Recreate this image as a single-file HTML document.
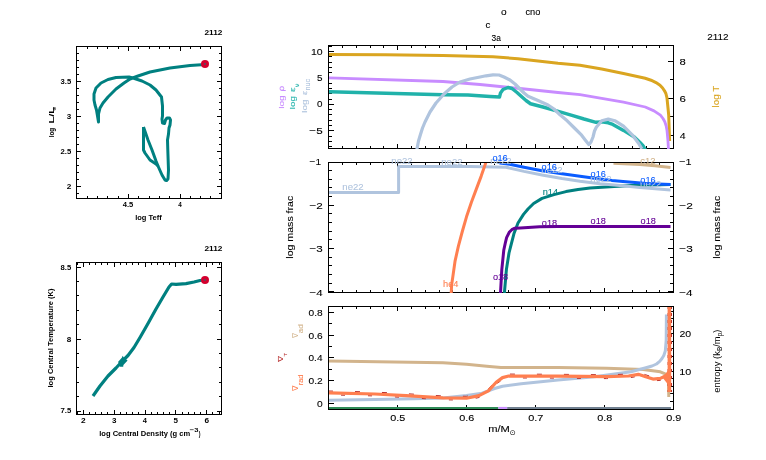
<!DOCTYPE html>
<html><head><meta charset="utf-8"><title>pgstar</title>
<style>
html,body{margin:0;padding:0;background:#fff;width:766px;height:460px;overflow:hidden}
svg{display:block}
</style></head><body>
<svg width="766" height="460" viewBox="0 0 766 460">
<rect width="766" height="460" fill="#fff"/>
<g style="font-family:'Liberation Sans',sans-serif">
<g shape-rendering="auto">
<path d="M143.50,127.00 L143.50,150.00 L145.00,153.00 L150.00,160.00 L156.00,164.00 L158.00,166.00 L162.00,175.00 L165.00,180.00 L166.50,180.60 L168.00,179.00 L168.50,170.00 L167.80,150.00 L167.50,140.00 L168.50,134.00 L169.00,128.00 L170.00,125.00 L170.50,120.00 L169.50,118.00 L167.00,118.00 L165.50,120.00 L164.50,123.50 L162.50,123.00 L162.00,119.00 L162.50,116.00 L162.50,106.00 L161.50,97.00 L156.00,90.00 L150.00,85.00 L142.00,81.00 L133.00,78.00 L129.00,77.00 L116.00,77.50 L108.00,79.50 L101.00,83.00 L96.00,88.00 L94.00,94.00 L94.00,100.00 L95.00,105.00 L96.50,110.00 L97.50,116.00 L98.50,122.00 L98.50,114.00 L100.00,108.00 L103.00,103.00 L108.00,97.00 L116.00,89.00 L124.00,83.00 L130.00,79.00 L138.00,76.00 L150.00,72.00 L170.00,68.00 L190.00,65.40 L205.00,64.40" fill="none" stroke="#008080" stroke-width="3.00" stroke-linejoin="round" stroke-linecap="butt" />
<path d="M143.50,127.00 L148.00,140.00 L152.00,150.00 L156.00,161.00 L158.00,166.00" fill="none" stroke="#008080" stroke-width="3.00" stroke-linejoin="round" stroke-linecap="butt" />
<circle cx="205" cy="64.1" r="4" fill="#d4002e"/>
<rect x="204" y="63.5" width="2" height="1" fill="#008080"/>
</g>
<rect x="76" y="46" width="146" height="1" fill="#000"/>
<rect x="76" y="198" width="146" height="1" fill="#000"/>
<rect x="76" y="46" width="1" height="153" fill="#000"/>
<rect x="221" y="46" width="1" height="153" fill="#000"/>
<rect x="77" y="186" width="4" height="1" fill="#000"/>
<rect x="217" y="186" width="4" height="1" fill="#000"/>
<rect x="77" y="151" width="4" height="1" fill="#000"/>
<rect x="217" y="151" width="4" height="1" fill="#000"/>
<rect x="77" y="116" width="4" height="1" fill="#000"/>
<rect x="217" y="116" width="4" height="1" fill="#000"/>
<rect x="77" y="81" width="4" height="1" fill="#000"/>
<rect x="217" y="81" width="4" height="1" fill="#000"/>
<rect x="77" y="46" width="4" height="1" fill="#000"/>
<rect x="217" y="46" width="4" height="1" fill="#000"/>
<rect x="77" y="193" width="2" height="1" fill="#000"/>
<rect x="219" y="193" width="2" height="1" fill="#000"/>
<rect x="77" y="179" width="2" height="1" fill="#000"/>
<rect x="219" y="179" width="2" height="1" fill="#000"/>
<rect x="77" y="172" width="2" height="1" fill="#000"/>
<rect x="219" y="172" width="2" height="1" fill="#000"/>
<rect x="77" y="165" width="2" height="1" fill="#000"/>
<rect x="219" y="165" width="2" height="1" fill="#000"/>
<rect x="77" y="158" width="2" height="1" fill="#000"/>
<rect x="219" y="158" width="2" height="1" fill="#000"/>
<rect x="77" y="144" width="2" height="1" fill="#000"/>
<rect x="219" y="144" width="2" height="1" fill="#000"/>
<rect x="77" y="137" width="2" height="1" fill="#000"/>
<rect x="219" y="137" width="2" height="1" fill="#000"/>
<rect x="77" y="130" width="2" height="1" fill="#000"/>
<rect x="219" y="130" width="2" height="1" fill="#000"/>
<rect x="77" y="123" width="2" height="1" fill="#000"/>
<rect x="219" y="123" width="2" height="1" fill="#000"/>
<rect x="77" y="109" width="2" height="1" fill="#000"/>
<rect x="219" y="109" width="2" height="1" fill="#000"/>
<rect x="77" y="102" width="2" height="1" fill="#000"/>
<rect x="219" y="102" width="2" height="1" fill="#000"/>
<rect x="77" y="95" width="2" height="1" fill="#000"/>
<rect x="219" y="95" width="2" height="1" fill="#000"/>
<rect x="77" y="88" width="2" height="1" fill="#000"/>
<rect x="219" y="88" width="2" height="1" fill="#000"/>
<rect x="77" y="74" width="2" height="1" fill="#000"/>
<rect x="219" y="74" width="2" height="1" fill="#000"/>
<rect x="77" y="67" width="2" height="1" fill="#000"/>
<rect x="219" y="67" width="2" height="1" fill="#000"/>
<rect x="77" y="60" width="2" height="1" fill="#000"/>
<rect x="219" y="60" width="2" height="1" fill="#000"/>
<rect x="77" y="53" width="2" height="1" fill="#000"/>
<rect x="219" y="53" width="2" height="1" fill="#000"/>
<rect x="180" y="47" width="1" height="4" fill="#000"/>
<rect x="180" y="194" width="1" height="4" fill="#000"/>
<rect x="128" y="47" width="1" height="4" fill="#000"/>
<rect x="128" y="194" width="1" height="4" fill="#000"/>
<rect x="210" y="47" width="1" height="2" fill="#000"/>
<rect x="210" y="196" width="1" height="2" fill="#000"/>
<rect x="200" y="47" width="1" height="2" fill="#000"/>
<rect x="200" y="196" width="1" height="2" fill="#000"/>
<rect x="190" y="47" width="1" height="2" fill="#000"/>
<rect x="190" y="196" width="1" height="2" fill="#000"/>
<rect x="169" y="47" width="1" height="2" fill="#000"/>
<rect x="169" y="196" width="1" height="2" fill="#000"/>
<rect x="159" y="47" width="1" height="2" fill="#000"/>
<rect x="159" y="196" width="1" height="2" fill="#000"/>
<rect x="149" y="47" width="1" height="2" fill="#000"/>
<rect x="149" y="196" width="1" height="2" fill="#000"/>
<rect x="138" y="47" width="1" height="2" fill="#000"/>
<rect x="138" y="196" width="1" height="2" fill="#000"/>
<rect x="118" y="47" width="1" height="2" fill="#000"/>
<rect x="118" y="196" width="1" height="2" fill="#000"/>
<rect x="107" y="47" width="1" height="2" fill="#000"/>
<rect x="107" y="196" width="1" height="2" fill="#000"/>
<rect x="97" y="47" width="1" height="2" fill="#000"/>
<rect x="97" y="196" width="1" height="2" fill="#000"/>
<rect x="87" y="47" width="1" height="2" fill="#000"/>
<rect x="87" y="196" width="1" height="2" fill="#000"/>
<text x="60.63" y="84.00" font-size="7.30" fill="#000" font-weight="bold" textLength="10.59" lengthAdjust="spacingAndGlyphs" >3.5</text>
<text x="66.82" y="118.90" font-size="7.30" fill="#000" font-weight="bold" textLength="4.48" lengthAdjust="spacingAndGlyphs" >3</text>
<text x="60.53" y="154.00" font-size="7.30" fill="#000" font-weight="bold" textLength="10.68" lengthAdjust="spacingAndGlyphs" >2.5</text>
<text x="66.71" y="189.00" font-size="7.30" fill="#000" font-weight="bold" textLength="4.62" lengthAdjust="spacingAndGlyphs" >2</text>
<text x="122.69" y="207.10" font-size="7.30" fill="#000" font-weight="bold" textLength="10.53" lengthAdjust="spacingAndGlyphs" >4.5</text>
<text x="178.30" y="207.10" font-size="7.30" fill="#000" font-weight="bold" textLength="3.53" lengthAdjust="spacingAndGlyphs" >4</text>
<text x="135.19" y="219.90" font-size="7.30" fill="#000" font-weight="bold" textLength="26.50" lengthAdjust="spacingAndGlyphs" >log Teff</text>
<text transform="translate(53.60 136.80) rotate(-90)" x="-0.44" y="0" font-size="7.30" fill="#000" font-weight="bold" textLength="9.46" lengthAdjust="spacingAndGlyphs" >log</text>
<text transform="translate(53.60 122.80) rotate(-90)" x="-0.74" y="0" font-size="7.30" fill="#000" font-weight="bold" textLength="16.69" lengthAdjust="spacingAndGlyphs" >L/L</text>
<text transform="translate(56.1 110.7) rotate(-90)" x="0" y="0" font-size="4.8" font-family="DejaVu Sans, sans-serif" font-weight="bold">&#8857;</text>
<text x="204.42" y="35.10" font-size="7.60" fill="#000" font-weight="bold" textLength="18.00" lengthAdjust="spacingAndGlyphs" >2112</text>
<path d="M93.00,396.00 L100.00,386.00 L108.00,376.00 L116.00,368.00 L122.00,361.50 L128.00,355.50 L134.00,347.50 L140.00,337.50 L148.00,323.50 L156.00,309.00 L163.00,297.00 L169.00,287.00 L171.60,284.00 L176.00,284.40 L186.00,283.60 L194.00,282.00 L200.00,280.50 L205.00,280.00" fill="none" stroke="#008080" stroke-width="3.20" stroke-linejoin="round" stroke-linecap="butt" />
<polygon points="118,362 122,357.5 122.6,355.8 124.2,358 127.6,360.4 123.4,365 123.2,366.8 119.8,366.8 119.4,364" fill="#008080"/>
<circle cx="205" cy="279.9" r="4" fill="#d4002e"/>
<rect x="204" y="279.5" width="2" height="1" fill="#008080"/>
<rect x="76" y="262" width="146" height="1" fill="#000"/>
<rect x="76" y="414" width="146" height="1" fill="#000"/>
<rect x="76" y="262" width="1" height="153" fill="#000"/>
<rect x="221" y="262" width="1" height="153" fill="#000"/>
<rect x="77" y="411" width="4" height="1" fill="#000"/>
<rect x="217" y="411" width="4" height="1" fill="#000"/>
<rect x="77" y="339" width="4" height="1" fill="#000"/>
<rect x="217" y="339" width="4" height="1" fill="#000"/>
<rect x="77" y="267" width="4" height="1" fill="#000"/>
<rect x="217" y="267" width="4" height="1" fill="#000"/>
<rect x="77" y="396" width="2" height="1" fill="#000"/>
<rect x="219" y="396" width="2" height="1" fill="#000"/>
<rect x="77" y="382" width="2" height="1" fill="#000"/>
<rect x="219" y="382" width="2" height="1" fill="#000"/>
<rect x="77" y="367" width="2" height="1" fill="#000"/>
<rect x="219" y="367" width="2" height="1" fill="#000"/>
<rect x="77" y="353" width="2" height="1" fill="#000"/>
<rect x="219" y="353" width="2" height="1" fill="#000"/>
<rect x="77" y="324" width="2" height="1" fill="#000"/>
<rect x="219" y="324" width="2" height="1" fill="#000"/>
<rect x="77" y="310" width="2" height="1" fill="#000"/>
<rect x="219" y="310" width="2" height="1" fill="#000"/>
<rect x="77" y="295" width="2" height="1" fill="#000"/>
<rect x="219" y="295" width="2" height="1" fill="#000"/>
<rect x="77" y="281" width="2" height="1" fill="#000"/>
<rect x="219" y="281" width="2" height="1" fill="#000"/>
<rect x="83" y="263" width="1" height="4" fill="#000"/>
<rect x="83" y="410" width="1" height="4" fill="#000"/>
<rect x="114" y="263" width="1" height="4" fill="#000"/>
<rect x="114" y="410" width="1" height="4" fill="#000"/>
<rect x="145" y="263" width="1" height="4" fill="#000"/>
<rect x="145" y="410" width="1" height="4" fill="#000"/>
<rect x="175" y="263" width="1" height="4" fill="#000"/>
<rect x="175" y="410" width="1" height="4" fill="#000"/>
<rect x="206" y="263" width="1" height="4" fill="#000"/>
<rect x="206" y="410" width="1" height="4" fill="#000"/>
<rect x="77" y="263" width="1" height="2" fill="#000"/>
<rect x="77" y="412" width="1" height="2" fill="#000"/>
<rect x="89" y="263" width="1" height="2" fill="#000"/>
<rect x="89" y="412" width="1" height="2" fill="#000"/>
<rect x="95" y="263" width="1" height="2" fill="#000"/>
<rect x="95" y="412" width="1" height="2" fill="#000"/>
<rect x="101" y="263" width="1" height="2" fill="#000"/>
<rect x="101" y="412" width="1" height="2" fill="#000"/>
<rect x="107" y="263" width="1" height="2" fill="#000"/>
<rect x="107" y="412" width="1" height="2" fill="#000"/>
<rect x="120" y="263" width="1" height="2" fill="#000"/>
<rect x="120" y="412" width="1" height="2" fill="#000"/>
<rect x="126" y="263" width="1" height="2" fill="#000"/>
<rect x="126" y="412" width="1" height="2" fill="#000"/>
<rect x="132" y="263" width="1" height="2" fill="#000"/>
<rect x="132" y="412" width="1" height="2" fill="#000"/>
<rect x="138" y="263" width="1" height="2" fill="#000"/>
<rect x="138" y="412" width="1" height="2" fill="#000"/>
<rect x="151" y="263" width="1" height="2" fill="#000"/>
<rect x="151" y="412" width="1" height="2" fill="#000"/>
<rect x="157" y="263" width="1" height="2" fill="#000"/>
<rect x="157" y="412" width="1" height="2" fill="#000"/>
<rect x="163" y="263" width="1" height="2" fill="#000"/>
<rect x="163" y="412" width="1" height="2" fill="#000"/>
<rect x="169" y="263" width="1" height="2" fill="#000"/>
<rect x="169" y="412" width="1" height="2" fill="#000"/>
<rect x="182" y="263" width="1" height="2" fill="#000"/>
<rect x="182" y="412" width="1" height="2" fill="#000"/>
<rect x="188" y="263" width="1" height="2" fill="#000"/>
<rect x="188" y="412" width="1" height="2" fill="#000"/>
<rect x="194" y="263" width="1" height="2" fill="#000"/>
<rect x="194" y="412" width="1" height="2" fill="#000"/>
<rect x="200" y="263" width="1" height="2" fill="#000"/>
<rect x="200" y="412" width="1" height="2" fill="#000"/>
<rect x="212" y="263" width="1" height="2" fill="#000"/>
<rect x="212" y="412" width="1" height="2" fill="#000"/>
<rect x="219" y="263" width="1" height="2" fill="#000"/>
<rect x="219" y="412" width="1" height="2" fill="#000"/>
<text x="60.56" y="270.00" font-size="7.30" fill="#000" font-weight="bold" textLength="10.66" lengthAdjust="spacingAndGlyphs" >8.5</text>
<text x="66.74" y="341.80" font-size="7.30" fill="#000" font-weight="bold" textLength="4.51" lengthAdjust="spacingAndGlyphs" >8</text>
<text x="60.47" y="413.20" font-size="7.30" fill="#000" font-weight="bold" textLength="10.75" lengthAdjust="spacingAndGlyphs" >7.5</text>
<text x="81.01" y="422.80" font-size="7.00" fill="#000" font-weight="bold" textLength="4.62" lengthAdjust="spacingAndGlyphs" >2</text>
<text x="111.97" y="422.80" font-size="7.00" fill="#000" font-weight="bold" textLength="4.48" lengthAdjust="spacingAndGlyphs" >3</text>
<text x="142.89" y="422.80" font-size="7.00" fill="#000" font-weight="bold" textLength="4.15" lengthAdjust="spacingAndGlyphs" >4</text>
<text x="173.60" y="422.80" font-size="7.00" fill="#000" font-weight="bold" textLength="4.47" lengthAdjust="spacingAndGlyphs" >5</text>
<text x="204.40" y="422.80" font-size="7.00" fill="#000" font-weight="bold" textLength="4.60" lengthAdjust="spacingAndGlyphs" >6</text>
<text x="99.27" y="435.60" font-size="7.30" fill="#000" font-weight="bold" textLength="90.89" lengthAdjust="spacingAndGlyphs" >log Central Density (g cm</text>
<text x="189.8" y="432.4" font-size="6" font-weight="bold" textLength="8.6" lengthAdjust="spacingAndGlyphs">&#8722;3</text>
<text x="198.69" y="435.60" font-size="7.30" fill="#000" font-weight="bold" textLength="1.77" lengthAdjust="spacingAndGlyphs" >)</text>
<text transform="translate(53.00 387.00) rotate(-90)" x="-0.52" y="0" font-size="7.30" fill="#000" font-weight="bold" textLength="99.10" lengthAdjust="spacingAndGlyphs" >log Central Temperature (K)</text>
<text x="204.42" y="251.00" font-size="7.60" fill="#000" font-weight="bold" textLength="18.00" lengthAdjust="spacingAndGlyphs" >2112</text>
</g>
<defs>
<clipPath id="c1"><rect x="329" y="46" width="344" height="103"/></clipPath>
<clipPath id="c2"><rect x="329" y="163" width="344" height="130"/></clipPath>
<clipPath id="c3"><rect x="329" y="307" width="344" height="103"/></clipPath>
</defs>
<g style="font-family:'Liberation Sans',sans-serif">
<rect x="328" y="45" width="346" height="1" fill="#000"/>
<rect x="328" y="148" width="346" height="1" fill="#000"/>
<rect x="328" y="45" width="1" height="104" fill="#000"/>
<rect x="673" y="45" width="1" height="104" fill="#000"/>
<rect x="329" y="51" width="5" height="1" fill="#000"/>
<rect x="329" y="78" width="5" height="1" fill="#000"/>
<rect x="329" y="104" width="5" height="1" fill="#000"/>
<rect x="329" y="130" width="5" height="1" fill="#000"/>
<rect x="329" y="146" width="3" height="1" fill="#000"/>
<rect x="329" y="141" width="3" height="1" fill="#000"/>
<rect x="329" y="136" width="3" height="1" fill="#000"/>
<rect x="329" y="125" width="3" height="1" fill="#000"/>
<rect x="329" y="120" width="3" height="1" fill="#000"/>
<rect x="329" y="114" width="3" height="1" fill="#000"/>
<rect x="329" y="109" width="3" height="1" fill="#000"/>
<rect x="329" y="99" width="3" height="1" fill="#000"/>
<rect x="329" y="93" width="3" height="1" fill="#000"/>
<rect x="329" y="88" width="3" height="1" fill="#000"/>
<rect x="329" y="83" width="3" height="1" fill="#000"/>
<rect x="329" y="72" width="3" height="1" fill="#000"/>
<rect x="329" y="67" width="3" height="1" fill="#000"/>
<rect x="329" y="62" width="3" height="1" fill="#000"/>
<rect x="329" y="56" width="3" height="1" fill="#000"/>
<rect x="329" y="46" width="3" height="1" fill="#000"/>
<rect x="668" y="61" width="5" height="1" fill="#000"/>
<rect x="668" y="98" width="5" height="1" fill="#000"/>
<rect x="668" y="135" width="5" height="1" fill="#000"/>
<rect x="670" y="79" width="3" height="1" fill="#000"/>
<rect x="670" y="116" width="3" height="1" fill="#000"/>
<rect x="397" y="46" width="1" height="4" fill="#000"/>
<rect x="397" y="144" width="1" height="4" fill="#000"/>
<rect x="466" y="46" width="1" height="4" fill="#000"/>
<rect x="466" y="144" width="1" height="4" fill="#000"/>
<rect x="535" y="46" width="1" height="4" fill="#000"/>
<rect x="535" y="144" width="1" height="4" fill="#000"/>
<rect x="604" y="46" width="1" height="4" fill="#000"/>
<rect x="604" y="144" width="1" height="4" fill="#000"/>
<rect x="342" y="46" width="1" height="2" fill="#000"/>
<rect x="342" y="146" width="1" height="2" fill="#000"/>
<rect x="356" y="46" width="1" height="2" fill="#000"/>
<rect x="356" y="146" width="1" height="2" fill="#000"/>
<rect x="370" y="46" width="1" height="2" fill="#000"/>
<rect x="370" y="146" width="1" height="2" fill="#000"/>
<rect x="383" y="46" width="1" height="2" fill="#000"/>
<rect x="383" y="146" width="1" height="2" fill="#000"/>
<rect x="411" y="46" width="1" height="2" fill="#000"/>
<rect x="411" y="146" width="1" height="2" fill="#000"/>
<rect x="425" y="46" width="1" height="2" fill="#000"/>
<rect x="425" y="146" width="1" height="2" fill="#000"/>
<rect x="439" y="46" width="1" height="2" fill="#000"/>
<rect x="439" y="146" width="1" height="2" fill="#000"/>
<rect x="452" y="46" width="1" height="2" fill="#000"/>
<rect x="452" y="146" width="1" height="2" fill="#000"/>
<rect x="480" y="46" width="1" height="2" fill="#000"/>
<rect x="480" y="146" width="1" height="2" fill="#000"/>
<rect x="494" y="46" width="1" height="2" fill="#000"/>
<rect x="494" y="146" width="1" height="2" fill="#000"/>
<rect x="508" y="46" width="1" height="2" fill="#000"/>
<rect x="508" y="146" width="1" height="2" fill="#000"/>
<rect x="521" y="46" width="1" height="2" fill="#000"/>
<rect x="521" y="146" width="1" height="2" fill="#000"/>
<rect x="549" y="46" width="1" height="2" fill="#000"/>
<rect x="549" y="146" width="1" height="2" fill="#000"/>
<rect x="563" y="46" width="1" height="2" fill="#000"/>
<rect x="563" y="146" width="1" height="2" fill="#000"/>
<rect x="577" y="46" width="1" height="2" fill="#000"/>
<rect x="577" y="146" width="1" height="2" fill="#000"/>
<rect x="590" y="46" width="1" height="2" fill="#000"/>
<rect x="590" y="146" width="1" height="2" fill="#000"/>
<rect x="618" y="46" width="1" height="2" fill="#000"/>
<rect x="618" y="146" width="1" height="2" fill="#000"/>
<rect x="632" y="46" width="1" height="2" fill="#000"/>
<rect x="632" y="146" width="1" height="2" fill="#000"/>
<rect x="646" y="46" width="1" height="2" fill="#000"/>
<rect x="646" y="146" width="1" height="2" fill="#000"/>
<rect x="659" y="46" width="1" height="2" fill="#000"/>
<rect x="659" y="146" width="1" height="2" fill="#000"/>
<g clip-path="url(#c1)">
<path d="M328.00,54.50 L385.00,54.80 L443.00,55.50 L493.00,56.75 L518.00,58.75 L558.00,63.25 L580.00,65.20 L601.70,69.10 L623.50,73.50 L645.20,78.30 L651.00,80.20 L656.00,82.60 L660.00,85.20 L662.60,88.00 L664.50,90.80 L665.90,93.50 L667.00,98.00 L667.40,102.20 L668.20,110.00 L668.70,115.20 L669.60,141.00" fill="none" stroke="#daa520" stroke-width="3.00" stroke-linejoin="round" stroke-linecap="butt" />
<path d="M328.00,77.75 L443.00,81.50 L480.00,84.50 L500.00,86.50 L520.00,88.50 L558.00,92.50 L580.00,94.60 L601.70,98.30 L623.50,102.20 L645.20,107.00 L654.00,110.90 L660.40,115.20 L663.00,118.50 L664.80,121.70 L666.20,126.00 L667.00,130.40 L668.00,141.30 L668.50,150.00" fill="none" stroke="#c88cff" stroke-width="2.80" stroke-linejoin="round" stroke-linecap="butt" />
<path d="M328.00,91.75 L443.00,94.75 L468.00,95.00 L490.00,96.50 L499.50,97.00 L500.50,93.00 L503.00,89.50 L508.00,87.50 L512.00,88.50 L517.00,92.50 L522.00,97.00 L526.00,100.50 L530.50,103.75 L543.00,107.00 L560.00,111.80 L572.00,115.40 L584.00,119.00 L596.00,122.30 L601.70,121.90 L608.30,122.80 L612.80,124.40 L623.50,130.40 L634.30,137.00 L640.00,142.50 L643.00,145.70 L645.50,150.00" fill="none" stroke="#20b2aa" stroke-width="3.40" stroke-linejoin="round" stroke-linecap="butt" />
<path d="M416.80,150.00 L418.50,141.00 L420.00,136.00 L422.50,128.00 L425.00,122.00 L430.00,112.00 L436.00,103.00 L444.00,94.00 L452.00,87.00 L460.00,82.00 L470.00,79.00 L480.00,77.00 L486.00,75.80 L493.00,74.80 L499.00,75.00 L504.00,77.00 L510.00,80.00 L515.00,84.00 L520.00,89.00 L524.00,93.00 L528.00,96.25 L538.00,100.50 L548.00,105.00 L554.00,109.00 L560.00,114.80 L567.20,120.80 L574.40,128.00 L581.60,135.20 L586.00,141.00 L588.80,144.60 L591.00,142.00 L593.00,137.00 L594.50,131.00 L596.30,127.20 L601.70,120.70 L608.30,119.10 L614.80,120.70 L623.50,126.10 L632.20,134.80 L638.70,143.50 L642.00,149.00" fill="none" stroke="#b0c4de" stroke-width="3.20" stroke-linejoin="round" stroke-linecap="butt" />
</g>
<text x="311.00" y="55.00" font-size="9.80" fill="#000" font-weight="normal" textLength="11.71" lengthAdjust="spacingAndGlyphs"  stroke="#000" stroke-width="0.10">10</text>
<text x="317.10" y="81.00" font-size="9.80" fill="#000" font-weight="normal" textLength="5.51" lengthAdjust="spacingAndGlyphs"  stroke="#000" stroke-width="0.10">5</text>
<text x="317.12" y="107.00" font-size="9.80" fill="#000" font-weight="normal" textLength="5.47" lengthAdjust="spacingAndGlyphs"  stroke="#000" stroke-width="0.10">0</text>
<text x="309.32" y="133.60" font-size="9.80" fill="#000" font-weight="normal" textLength="13.37" lengthAdjust="spacingAndGlyphs"  stroke="#000" stroke-width="0.10">&#8722;5</text>
<text x="679.51" y="64.80" font-size="9.80" fill="#000" font-weight="normal" textLength="6.28" lengthAdjust="spacingAndGlyphs"  stroke="#000" stroke-width="0.10">8</text>
<text x="679.42" y="101.60" font-size="9.80" fill="#000" font-weight="normal" textLength="6.39" lengthAdjust="spacingAndGlyphs"  stroke="#000" stroke-width="0.10">6</text>
<text x="679.76" y="138.60" font-size="9.80" fill="#000" font-weight="normal" textLength="5.85" lengthAdjust="spacingAndGlyphs"  stroke="#000" stroke-width="0.10">4</text>
<text transform="translate(283.80 108.20) rotate(-90)" x="-0.68" y="0" font-size="8.00" fill="#c88cff" font-weight="normal" textLength="13.54" lengthAdjust="spacingAndGlyphs"  stroke="#c88cff" stroke-width="0.10">log</text>
<text transform="translate(283.80 90.90) rotate(-90)" x="-0.87" y="0" font-size="7.60" fill="#c88cff" font-weight="normal" textLength="6.10" lengthAdjust="spacingAndGlyphs"  font-family="DejaVu Sans, sans-serif" stroke="#c88cff" stroke-width="0.10">&#961;</text>
<text transform="translate(294.80 108.50) rotate(-90)" x="-0.66" y="0" font-size="8.00" fill="#20b2aa" font-weight="normal" textLength="13.09" lengthAdjust="spacingAndGlyphs"  stroke="#20b2aa" stroke-width="0.10">log</text>
<text transform="translate(294.80 91.60) rotate(-90)" x="-0.62" y="0" font-size="7.00" fill="#20b2aa" font-weight="normal" textLength="5.17" lengthAdjust="spacingAndGlyphs"  font-family="DejaVu Sans, sans-serif" stroke="#20b2aa" stroke-width="0.10">&#949;</text>
<text transform="translate(298.70 87.00) rotate(-90)" x="-0.24" y="0" font-size="6.00" fill="#20b2aa" font-weight="normal" textLength="3.76" lengthAdjust="spacingAndGlyphs"  font-family="DejaVu Sans, sans-serif" stroke="#20b2aa" stroke-width="0.10">&#957;</text>
<text transform="translate(307.00 112.00) rotate(-90)" x="-0.67" y="0" font-size="8.00" fill="#b0c4de" font-weight="normal" textLength="13.32" lengthAdjust="spacingAndGlyphs"  stroke="#b0c4de" stroke-width="0.10">log</text>
<text transform="translate(307.00 94.80) rotate(-90)" x="-0.56" y="0" font-size="7.00" fill="#b0c4de" font-weight="normal" textLength="4.64" lengthAdjust="spacingAndGlyphs"  font-family="DejaVu Sans, sans-serif" stroke="#b0c4de" stroke-width="0.10">&#949;</text>
<text transform="translate(309.60 90.10) rotate(-90)" x="-0.48" y="0" font-size="6.60" fill="#b0c4de" font-weight="normal" textLength="11.67" lengthAdjust="spacingAndGlyphs"  stroke="#b0c4de" stroke-width="0.10">nuc</text>
<text transform="translate(719.30 106.80) rotate(-90)" x="-0.66" y="0" font-size="9.60" fill="#daa520" font-weight="normal" textLength="21.79" lengthAdjust="spacingAndGlyphs"  stroke="#daa520" stroke-width="0.10">log T</text>
<text x="707.22" y="40.10" font-size="8.60" fill="#000" font-weight="normal" textLength="21.37" lengthAdjust="spacingAndGlyphs"  stroke="#000" stroke-width="0.10">2112</text>
<text x="500.97" y="15.00" font-size="9.30" fill="#000" font-weight="normal" textLength="5.65" lengthAdjust="spacingAndGlyphs"  stroke="#000" stroke-width="0.10">o</text>
<text x="525.41" y="15.00" font-size="9.30" fill="#000" font-weight="normal" textLength="14.88" lengthAdjust="spacingAndGlyphs"  stroke="#000" stroke-width="0.10">cno</text>
<text x="485.49" y="28.00" font-size="9.30" fill="#000" font-weight="normal" textLength="4.87" lengthAdjust="spacingAndGlyphs"  stroke="#000" stroke-width="0.10">c</text>
<text x="491.48" y="40.80" font-size="9.30" fill="#000" font-weight="normal" textLength="9.32" lengthAdjust="spacingAndGlyphs"  stroke="#000" stroke-width="0.10">3a</text>
<rect x="328" y="162" width="346" height="1" fill="#000"/>
<rect x="328" y="292" width="346" height="1" fill="#000"/>
<rect x="328" y="162" width="1" height="131" fill="#000"/>
<rect x="673" y="162" width="1" height="131" fill="#000"/>
<rect x="329" y="162" width="5" height="1" fill="#000"/>
<rect x="668" y="162" width="5" height="1" fill="#000"/>
<rect x="329" y="205" width="5" height="1" fill="#000"/>
<rect x="668" y="205" width="5" height="1" fill="#000"/>
<rect x="329" y="248" width="5" height="1" fill="#000"/>
<rect x="668" y="248" width="5" height="1" fill="#000"/>
<rect x="329" y="291" width="5" height="1" fill="#000"/>
<rect x="668" y="291" width="5" height="1" fill="#000"/>
<rect x="329" y="283" width="3" height="1" fill="#000"/>
<rect x="670" y="283" width="3" height="1" fill="#000"/>
<rect x="329" y="274" width="3" height="1" fill="#000"/>
<rect x="670" y="274" width="3" height="1" fill="#000"/>
<rect x="329" y="265" width="3" height="1" fill="#000"/>
<rect x="670" y="265" width="3" height="1" fill="#000"/>
<rect x="329" y="257" width="3" height="1" fill="#000"/>
<rect x="670" y="257" width="3" height="1" fill="#000"/>
<rect x="329" y="239" width="3" height="1" fill="#000"/>
<rect x="670" y="239" width="3" height="1" fill="#000"/>
<rect x="329" y="231" width="3" height="1" fill="#000"/>
<rect x="670" y="231" width="3" height="1" fill="#000"/>
<rect x="329" y="222" width="3" height="1" fill="#000"/>
<rect x="670" y="222" width="3" height="1" fill="#000"/>
<rect x="329" y="213" width="3" height="1" fill="#000"/>
<rect x="670" y="213" width="3" height="1" fill="#000"/>
<rect x="329" y="196" width="3" height="1" fill="#000"/>
<rect x="670" y="196" width="3" height="1" fill="#000"/>
<rect x="329" y="187" width="3" height="1" fill="#000"/>
<rect x="670" y="187" width="3" height="1" fill="#000"/>
<rect x="329" y="179" width="3" height="1" fill="#000"/>
<rect x="670" y="179" width="3" height="1" fill="#000"/>
<rect x="329" y="170" width="3" height="1" fill="#000"/>
<rect x="670" y="170" width="3" height="1" fill="#000"/>
<rect x="397" y="163" width="1" height="4" fill="#000"/>
<rect x="397" y="288" width="1" height="4" fill="#000"/>
<rect x="466" y="163" width="1" height="4" fill="#000"/>
<rect x="466" y="288" width="1" height="4" fill="#000"/>
<rect x="535" y="163" width="1" height="4" fill="#000"/>
<rect x="535" y="288" width="1" height="4" fill="#000"/>
<rect x="604" y="163" width="1" height="4" fill="#000"/>
<rect x="604" y="288" width="1" height="4" fill="#000"/>
<rect x="342" y="163" width="1" height="2" fill="#000"/>
<rect x="342" y="290" width="1" height="2" fill="#000"/>
<rect x="356" y="163" width="1" height="2" fill="#000"/>
<rect x="356" y="290" width="1" height="2" fill="#000"/>
<rect x="370" y="163" width="1" height="2" fill="#000"/>
<rect x="370" y="290" width="1" height="2" fill="#000"/>
<rect x="383" y="163" width="1" height="2" fill="#000"/>
<rect x="383" y="290" width="1" height="2" fill="#000"/>
<rect x="411" y="163" width="1" height="2" fill="#000"/>
<rect x="411" y="290" width="1" height="2" fill="#000"/>
<rect x="425" y="163" width="1" height="2" fill="#000"/>
<rect x="425" y="290" width="1" height="2" fill="#000"/>
<rect x="439" y="163" width="1" height="2" fill="#000"/>
<rect x="439" y="290" width="1" height="2" fill="#000"/>
<rect x="452" y="163" width="1" height="2" fill="#000"/>
<rect x="452" y="290" width="1" height="2" fill="#000"/>
<rect x="480" y="163" width="1" height="2" fill="#000"/>
<rect x="480" y="290" width="1" height="2" fill="#000"/>
<rect x="494" y="163" width="1" height="2" fill="#000"/>
<rect x="494" y="290" width="1" height="2" fill="#000"/>
<rect x="508" y="163" width="1" height="2" fill="#000"/>
<rect x="508" y="290" width="1" height="2" fill="#000"/>
<rect x="521" y="163" width="1" height="2" fill="#000"/>
<rect x="521" y="290" width="1" height="2" fill="#000"/>
<rect x="549" y="163" width="1" height="2" fill="#000"/>
<rect x="549" y="290" width="1" height="2" fill="#000"/>
<rect x="563" y="163" width="1" height="2" fill="#000"/>
<rect x="563" y="290" width="1" height="2" fill="#000"/>
<rect x="577" y="163" width="1" height="2" fill="#000"/>
<rect x="577" y="290" width="1" height="2" fill="#000"/>
<rect x="590" y="163" width="1" height="2" fill="#000"/>
<rect x="590" y="290" width="1" height="2" fill="#000"/>
<rect x="618" y="163" width="1" height="2" fill="#000"/>
<rect x="618" y="290" width="1" height="2" fill="#000"/>
<rect x="632" y="163" width="1" height="2" fill="#000"/>
<rect x="632" y="290" width="1" height="2" fill="#000"/>
<rect x="646" y="163" width="1" height="2" fill="#000"/>
<rect x="646" y="290" width="1" height="2" fill="#000"/>
<rect x="659" y="163" width="1" height="2" fill="#000"/>
<rect x="659" y="290" width="1" height="2" fill="#000"/>
<g clip-path="url(#c2)">
<path d="M504.40,293.00 L506.40,269.60 L509.00,253.00 L513.90,233.80 L518.00,223.00 L523.50,214.40 L528.00,209.00 L533.60,203.50 L542.00,198.40 L554.00,194.60 L566.00,191.60 L578.00,189.50 L590.00,188.00 L602.00,187.20 L614.00,186.60 L632.00,185.40 L670.50,184.50" fill="none" stroke="#008080" stroke-width="3.00" stroke-linejoin="round" stroke-linecap="butt" />
<path d="M500.50,293.00 L501.80,269.60 L503.80,250.00 L505.30,243.00 L506.60,237.60 L509.20,232.30 L511.80,229.70 L514.90,228.20 L520.30,227.90 L539.60,226.70 L558.00,226.40 L670.50,226.40" fill="none" stroke="#640096" stroke-width="3.00" stroke-linejoin="round" stroke-linecap="butt" />
<path d="M496.00,161.00 L500.00,163.00 L509.60,164.20 L524.00,167.20 L542.00,170.80 L562.00,173.80 L580.00,176.20 L600.00,179.00 L612.00,180.50 L623.00,181.50 L635.00,182.60 L646.00,183.50 L670.50,184.50" fill="none" stroke="#0a5cff" stroke-width="3.00" stroke-linejoin="round" stroke-linecap="butt" />
<path d="M328.00,192.40 L398.60,192.40 L398.60,166.50 L470.00,166.60 L506.00,167.20 L524.00,171.40 L542.00,175.00 L562.00,178.60 L580.00,181.30 L600.00,183.80 L620.00,185.50 L640.00,187.60 L670.50,190.00" fill="none" stroke="#b0c4de" stroke-width="3.00" stroke-linejoin="round" stroke-linecap="butt" />
<path d="M451.20,294.00 L451.60,285.00 L452.80,277.10 L455.10,260.80 L458.40,246.20 L462.30,231.50 L466.50,216.80 L471.40,202.20 L476.30,189.10 L481.20,176.10 L485.10,164.70 L486.50,160.00" fill="none" stroke="#ff7f50" stroke-width="3.00" stroke-linejoin="round" stroke-linecap="butt" />
<path d="M613.50,163.20 L640.00,164.60 L655.00,165.80 L670.50,167.40" fill="none" stroke="#d2b48c" stroke-width="3.00" stroke-linejoin="round" stroke-linecap="butt" />
</g>
<text x="309.50" y="165.00" font-size="9.80" fill="#000" font-weight="normal" textLength="11.49" lengthAdjust="spacingAndGlyphs"  stroke="#000" stroke-width="0.10">&#8722;1</text>
<text x="679.27" y="165.00" font-size="9.80" fill="#000" font-weight="normal" textLength="12.36" lengthAdjust="spacingAndGlyphs"  stroke="#000" stroke-width="0.10">&#8722;1</text>
<text x="309.42" y="209.00" font-size="9.80" fill="#000" font-weight="normal" textLength="13.37" lengthAdjust="spacingAndGlyphs"  stroke="#000" stroke-width="0.10">&#8722;2</text>
<text x="679.21" y="209.00" font-size="9.80" fill="#000" font-weight="normal" textLength="13.59" lengthAdjust="spacingAndGlyphs"  stroke="#000" stroke-width="0.10">&#8722;2</text>
<text x="309.43" y="252.40" font-size="9.80" fill="#000" font-weight="normal" textLength="13.29" lengthAdjust="spacingAndGlyphs"  stroke="#000" stroke-width="0.10">&#8722;3</text>
<text x="679.22" y="252.40" font-size="9.80" fill="#000" font-weight="normal" textLength="13.50" lengthAdjust="spacingAndGlyphs"  stroke="#000" stroke-width="0.10">&#8722;3</text>
<text x="309.43" y="295.70" font-size="9.80" fill="#000" font-weight="normal" textLength="13.10" lengthAdjust="spacingAndGlyphs"  stroke="#000" stroke-width="0.10">&#8722;4</text>
<text x="679.22" y="295.70" font-size="9.80" fill="#000" font-weight="normal" textLength="13.32" lengthAdjust="spacingAndGlyphs"  stroke="#000" stroke-width="0.10">&#8722;4</text>
<text transform="translate(293.20 258.00) rotate(-90)" x="-0.71" y="0" font-size="9.60" fill="#000" font-weight="normal" textLength="62.99" lengthAdjust="spacingAndGlyphs"  stroke="#000" stroke-width="0.10">log mass frac</text>
<text transform="translate(719.60 258.00) rotate(-90)" x="-0.71" y="0" font-size="9.60" fill="#000" font-weight="normal" textLength="62.99" lengthAdjust="spacingAndGlyphs"  stroke="#000" stroke-width="0.10">log mass frac</text>
<text x="342.36" y="190.00" font-size="9.80" fill="#b0c4de" font-weight="normal" textLength="21.32" lengthAdjust="spacingAndGlyphs"  stroke="#b0c4de" stroke-width="0.10">ne22</text>
<text x="391.36" y="164.30" font-size="9.80" fill="#b0c4de" font-weight="normal" textLength="21.32" lengthAdjust="spacingAndGlyphs"  stroke="#b0c4de" stroke-width="0.10">ne22</text>
<text x="441.26" y="165.00" font-size="9.80" fill="#b0c4de" font-weight="normal" textLength="21.32" lengthAdjust="spacingAndGlyphs"  stroke="#b0c4de" stroke-width="0.10">ne22</text>
<text x="490.36" y="164.40" font-size="9.80" fill="#b0c4de" font-weight="normal" textLength="21.32" lengthAdjust="spacingAndGlyphs"  stroke="#b0c4de" stroke-width="0.10">ne22</text>
<text x="492.42" y="160.70" font-size="9.80" fill="#0a5cff" font-weight="normal" textLength="15.29" lengthAdjust="spacingAndGlyphs"  stroke="#0a5cff" stroke-width="0.10">o16</text>
<text x="541.36" y="173.00" font-size="9.80" fill="#b0c4de" font-weight="normal" textLength="21.32" lengthAdjust="spacingAndGlyphs"  stroke="#b0c4de" stroke-width="0.10">ne22</text>
<text x="541.62" y="170.30" font-size="9.80" fill="#0a5cff" font-weight="normal" textLength="15.29" lengthAdjust="spacingAndGlyphs"  stroke="#0a5cff" stroke-width="0.10">o16</text>
<text x="542.69" y="195.20" font-size="9.80" fill="#008080" font-weight="normal" textLength="15.38" lengthAdjust="spacingAndGlyphs"  stroke="#008080" stroke-width="0.10">n14</text>
<text x="541.82" y="225.80" font-size="9.80" fill="#640096" font-weight="normal" textLength="15.28" lengthAdjust="spacingAndGlyphs"  stroke="#640096" stroke-width="0.10">o18</text>
<text x="590.36" y="181.50" font-size="9.80" fill="#b0c4de" font-weight="normal" textLength="21.32" lengthAdjust="spacingAndGlyphs"  stroke="#b0c4de" stroke-width="0.10">ne22</text>
<text x="590.62" y="177.30" font-size="9.80" fill="#0a5cff" font-weight="normal" textLength="15.29" lengthAdjust="spacingAndGlyphs"  stroke="#0a5cff" stroke-width="0.10">o16</text>
<text x="590.62" y="223.50" font-size="9.80" fill="#640096" font-weight="normal" textLength="15.28" lengthAdjust="spacingAndGlyphs"  stroke="#640096" stroke-width="0.10">o18</text>
<text x="640.29" y="163.60" font-size="9.80" fill="#d2b48c" font-weight="normal" textLength="15.39" lengthAdjust="spacingAndGlyphs"  stroke="#d2b48c" stroke-width="0.10">c12</text>
<text x="640.06" y="186.50" font-size="9.80" fill="#b0c4de" font-weight="normal" textLength="21.32" lengthAdjust="spacingAndGlyphs"  stroke="#b0c4de" stroke-width="0.10">ne22</text>
<text x="640.32" y="182.50" font-size="9.80" fill="#0a5cff" font-weight="normal" textLength="15.29" lengthAdjust="spacingAndGlyphs"  stroke="#0a5cff" stroke-width="0.10">o16</text>
<text x="640.62" y="223.50" font-size="9.80" fill="#640096" font-weight="normal" textLength="15.28" lengthAdjust="spacingAndGlyphs"  stroke="#640096" stroke-width="0.10">o18</text>
<text x="443.06" y="286.70" font-size="9.80" fill="#ff7f50" font-weight="normal" textLength="15.41" lengthAdjust="spacingAndGlyphs"  stroke="#ff7f50" stroke-width="0.10">he4</text>
<text x="492.92" y="280.20" font-size="9.80" fill="#640096" font-weight="normal" textLength="15.28" lengthAdjust="spacingAndGlyphs"  stroke="#640096" stroke-width="0.10">o18</text>
<rect x="328" y="306" width="346" height="1" fill="#000"/>
<rect x="328" y="409" width="346" height="1" fill="#000"/>
<rect x="328" y="306" width="1" height="104" fill="#000"/>
<rect x="673" y="306" width="1" height="104" fill="#000"/>
<rect x="329" y="403" width="5" height="1" fill="#000"/>
<rect x="329" y="380" width="5" height="1" fill="#000"/>
<rect x="329" y="357" width="5" height="1" fill="#000"/>
<rect x="329" y="335" width="5" height="1" fill="#000"/>
<rect x="329" y="312" width="5" height="1" fill="#000"/>
<rect x="329" y="392" width="3" height="1" fill="#000"/>
<rect x="329" y="369" width="3" height="1" fill="#000"/>
<rect x="329" y="346" width="3" height="1" fill="#000"/>
<rect x="329" y="323" width="3" height="1" fill="#000"/>
<rect x="668" y="371" width="5" height="1" fill="#000"/>
<rect x="668" y="333" width="5" height="1" fill="#000"/>
<rect x="670" y="401" width="3" height="1" fill="#000"/>
<rect x="670" y="393" width="3" height="1" fill="#000"/>
<rect x="670" y="386" width="3" height="1" fill="#000"/>
<rect x="670" y="378" width="3" height="1" fill="#000"/>
<rect x="670" y="363" width="3" height="1" fill="#000"/>
<rect x="670" y="356" width="3" height="1" fill="#000"/>
<rect x="670" y="348" width="3" height="1" fill="#000"/>
<rect x="670" y="341" width="3" height="1" fill="#000"/>
<rect x="670" y="326" width="3" height="1" fill="#000"/>
<rect x="670" y="318" width="3" height="1" fill="#000"/>
<rect x="670" y="311" width="3" height="1" fill="#000"/>
<rect x="397" y="307" width="1" height="4" fill="#000"/>
<rect x="397" y="405" width="1" height="4" fill="#000"/>
<rect x="466" y="307" width="1" height="4" fill="#000"/>
<rect x="466" y="405" width="1" height="4" fill="#000"/>
<rect x="535" y="307" width="1" height="4" fill="#000"/>
<rect x="535" y="405" width="1" height="4" fill="#000"/>
<rect x="604" y="307" width="1" height="4" fill="#000"/>
<rect x="604" y="405" width="1" height="4" fill="#000"/>
<rect x="342" y="307" width="1" height="2" fill="#000"/>
<rect x="342" y="407" width="1" height="2" fill="#000"/>
<rect x="356" y="307" width="1" height="2" fill="#000"/>
<rect x="356" y="407" width="1" height="2" fill="#000"/>
<rect x="370" y="307" width="1" height="2" fill="#000"/>
<rect x="370" y="407" width="1" height="2" fill="#000"/>
<rect x="383" y="307" width="1" height="2" fill="#000"/>
<rect x="383" y="407" width="1" height="2" fill="#000"/>
<rect x="411" y="307" width="1" height="2" fill="#000"/>
<rect x="411" y="407" width="1" height="2" fill="#000"/>
<rect x="425" y="307" width="1" height="2" fill="#000"/>
<rect x="425" y="407" width="1" height="2" fill="#000"/>
<rect x="439" y="307" width="1" height="2" fill="#000"/>
<rect x="439" y="407" width="1" height="2" fill="#000"/>
<rect x="452" y="307" width="1" height="2" fill="#000"/>
<rect x="452" y="407" width="1" height="2" fill="#000"/>
<rect x="480" y="307" width="1" height="2" fill="#000"/>
<rect x="480" y="407" width="1" height="2" fill="#000"/>
<rect x="494" y="307" width="1" height="2" fill="#000"/>
<rect x="494" y="407" width="1" height="2" fill="#000"/>
<rect x="508" y="307" width="1" height="2" fill="#000"/>
<rect x="508" y="407" width="1" height="2" fill="#000"/>
<rect x="521" y="307" width="1" height="2" fill="#000"/>
<rect x="521" y="407" width="1" height="2" fill="#000"/>
<rect x="549" y="307" width="1" height="2" fill="#000"/>
<rect x="549" y="407" width="1" height="2" fill="#000"/>
<rect x="563" y="307" width="1" height="2" fill="#000"/>
<rect x="563" y="407" width="1" height="2" fill="#000"/>
<rect x="577" y="307" width="1" height="2" fill="#000"/>
<rect x="577" y="407" width="1" height="2" fill="#000"/>
<rect x="590" y="307" width="1" height="2" fill="#000"/>
<rect x="590" y="407" width="1" height="2" fill="#000"/>
<rect x="618" y="307" width="1" height="2" fill="#000"/>
<rect x="618" y="407" width="1" height="2" fill="#000"/>
<rect x="632" y="307" width="1" height="2" fill="#000"/>
<rect x="632" y="407" width="1" height="2" fill="#000"/>
<rect x="646" y="307" width="1" height="2" fill="#000"/>
<rect x="646" y="407" width="1" height="2" fill="#000"/>
<rect x="659" y="307" width="1" height="2" fill="#000"/>
<rect x="659" y="407" width="1" height="2" fill="#000"/>
<g clip-path="url(#c3)">
<path d="M328.00,361.10 L443.00,362.70 L466.50,364.30 L486.80,366.30 L500.90,367.40 L558.00,367.60 L606.70,368.20 L643.20,369.40 L660.30,371.80 L666.40,374.30 L668.40,380.00 L668.80,397.00" fill="none" stroke="#d2b48c" stroke-width="3.00" stroke-linejoin="round" stroke-linecap="butt" />
<path d="M328.00,400.20 L375.00,399.50 L414.00,398.70 L443.00,397.90 L466.50,395.60 L482.00,393.20 L494.60,388.50 L502.50,386.20 L521.20,383.80 L558.00,380.00 L594.50,376.70 L631.00,371.80 L645.00,368.00 L652.00,366.00 L656.50,364.00 L659.70,361.40 L662.00,358.50 L663.80,355.50 L665.30,351.00 L666.20,340.00 L666.40,314.60" fill="none" stroke="#b0c4de" stroke-width="3.00" stroke-linejoin="round" stroke-linecap="butt" />
<path d="M328.00,391.00 L375.00,392.10 L406.00,393.70 L443.00,396.00 L466.50,396.30 L479.00,393.70 L488.40,389.00 L496.20,380.40 L502.50,375.70 L508.70,374.10 L558.00,374.30 L606.70,374.80 L628.60,374.10 L638.40,372.40 L645.70,374.80 L653.00,377.20 L660.30,376.50 L666.40,373.60" fill="none" stroke="#b22222" stroke-width="1.00" stroke-linejoin="round" stroke-linecap="butt" stroke-dasharray="5 22"/>
<path d="M328.00,394.80 L375.00,395.90 L406.00,397.50 L443.00,399.80 L466.50,400.10 L479.00,397.50 L488.40,392.80 L496.20,384.20 L502.50,379.50 L508.70,377.90 L558.00,378.10 L606.70,378.60 L628.60,377.90 L638.40,376.20 L645.70,378.60 L653.00,381.00 L660.30,380.30 L666.40,377.40" fill="none" stroke="#b22222" stroke-width="1.00" stroke-linejoin="round" stroke-linecap="butt" stroke-dasharray="4 23" stroke-dashoffset="-13"/>
<path d="M669.80,306.00 L669.80,392.00" fill="none" stroke="#b22222" stroke-width="4.40" stroke-linejoin="round" stroke-linecap="butt" stroke-dasharray="3 4"/>
<path d="M328.00,392.90 L375.00,394.00 L406.00,395.60 L443.00,397.90 L466.50,398.20 L479.00,395.60 L488.40,390.90 L496.20,382.30 L502.50,377.60 L508.70,376.00 L558.00,376.20 L606.70,376.70 L628.60,376.00 L638.40,374.30 L645.70,376.70 L653.00,379.10 L660.30,378.40 L666.40,375.50" fill="none" stroke="#ff7f50" stroke-width="3.20" stroke-linejoin="round" stroke-linecap="butt" />
<path d="M669.40,300.00 L669.40,392.00" fill="none" stroke="#ff7f50" stroke-width="3.60" stroke-linejoin="round" stroke-linecap="butt" />
<polygon points="662.5,377.5 668,370.5 668,384.5" fill="#ff7f50"/>
<line x1="328.00" y1="407.90" x2="498.40" y2="407.90" stroke="#2e8b57" stroke-width="2.00"/>
<line x1="498.40" y1="407.90" x2="507.20" y2="407.90" stroke="#c88cff" stroke-width="2.00"/>
<line x1="507.20" y1="407.90" x2="671.00" y2="407.90" stroke="#708090" stroke-width="2.00"/>
</g>
<text x="308.50" y="315.70" font-size="9.80" fill="#000" font-weight="normal" textLength="14.14" lengthAdjust="spacingAndGlyphs"  stroke="#000" stroke-width="0.10">0.8</text>
<text x="308.50" y="338.50" font-size="9.80" fill="#000" font-weight="normal" textLength="14.14" lengthAdjust="spacingAndGlyphs"  stroke="#000" stroke-width="0.10">0.6</text>
<text x="308.51" y="361.30" font-size="9.80" fill="#000" font-weight="normal" textLength="13.99" lengthAdjust="spacingAndGlyphs"  stroke="#000" stroke-width="0.10">0.4</text>
<text x="308.50" y="384.10" font-size="9.80" fill="#000" font-weight="normal" textLength="14.21" lengthAdjust="spacingAndGlyphs"  stroke="#000" stroke-width="0.10">0.2</text>
<text x="316.90" y="406.80" font-size="9.80" fill="#000" font-weight="normal" textLength="5.70" lengthAdjust="spacingAndGlyphs"  stroke="#000" stroke-width="0.10">0</text>
<text x="679.47" y="337.00" font-size="9.80" fill="#000" font-weight="normal" textLength="11.74" lengthAdjust="spacingAndGlyphs"  stroke="#000" stroke-width="0.10">20</text>
<text x="679.17" y="374.60" font-size="9.80" fill="#000" font-weight="normal" textLength="12.05" lengthAdjust="spacingAndGlyphs"  stroke="#000" stroke-width="0.10">10</text>
<text x="390.18" y="420.80" font-size="9.80" fill="#000" font-weight="normal" textLength="15.08" lengthAdjust="spacingAndGlyphs"  stroke="#000" stroke-width="0.10">0.5</text>
<text x="459.18" y="420.80" font-size="9.80" fill="#000" font-weight="normal" textLength="15.10" lengthAdjust="spacingAndGlyphs"  stroke="#000" stroke-width="0.10">0.6</text>
<text x="528.17" y="420.80" font-size="9.80" fill="#000" font-weight="normal" textLength="15.18" lengthAdjust="spacingAndGlyphs"  stroke="#000" stroke-width="0.10">0.7</text>
<text x="597.18" y="420.80" font-size="9.80" fill="#000" font-weight="normal" textLength="15.10" lengthAdjust="spacingAndGlyphs"  stroke="#000" stroke-width="0.10">0.8</text>
<text x="666.17" y="420.80" font-size="9.80" fill="#000" font-weight="normal" textLength="15.14" lengthAdjust="spacingAndGlyphs"  stroke="#000" stroke-width="0.10">0.9</text>
<text x="488.16" y="431.80" font-size="9.80" fill="#000" font-weight="normal" textLength="21.65" lengthAdjust="spacingAndGlyphs"  stroke="#000" stroke-width="0.10">m/M</text>
<text x="509.4" y="434.7" font-size="7.5" font-family="DejaVu Sans, sans-serif">&#8857;</text>
<text transform="translate(720 392.8) rotate(-90)" font-size="9.4">entropy (k<tspan font-size="6.5" dy="2">B</tspan><tspan dy="-2">/m</tspan><tspan font-size="6.5" dy="2">p</tspan><tspan dy="-2">)</tspan></text>
<text transform="translate(298.2 337.9) rotate(-90)" font-size="8" fill="#d2b48c" font-family="DejaVu Sans, sans-serif" textLength="4.9" lengthAdjust="spacingAndGlyphs">&#8711;</text>
<text transform="translate(302.60 332.80) rotate(-90)" x="-0.34" y="0" font-size="7.20" fill="#d2b48c" font-weight="normal" textLength="8.85" lengthAdjust="spacingAndGlyphs"  stroke="#d2b48c" stroke-width="0.10">ad</text>
<text transform="translate(283.2 361.9) rotate(-90)" font-size="7" fill="#b22222" font-family="DejaVu Sans, sans-serif" textLength="6.1" lengthAdjust="spacingAndGlyphs">&#8711;</text>
<text transform="translate(287.00 356.50) rotate(-90)" x="-0.13" y="0" font-size="4.00" fill="#b22222" font-weight="normal" textLength="3.57" lengthAdjust="spacingAndGlyphs"  stroke="#b22222" stroke-width="0.10">T</text>
<text transform="translate(298.2 390.9) rotate(-90)" font-size="8" fill="#ff7f50" font-family="DejaVu Sans, sans-serif" textLength="5.4" lengthAdjust="spacingAndGlyphs">&#8711;</text>
<text transform="translate(302.90 384.80) rotate(-90)" x="-0.50" y="0" font-size="7.40" fill="#ff7f50" font-weight="normal" textLength="10.78" lengthAdjust="spacingAndGlyphs"  stroke="#ff7f50" stroke-width="0.10">rad</text>
</g>
</svg>
</body></html>
